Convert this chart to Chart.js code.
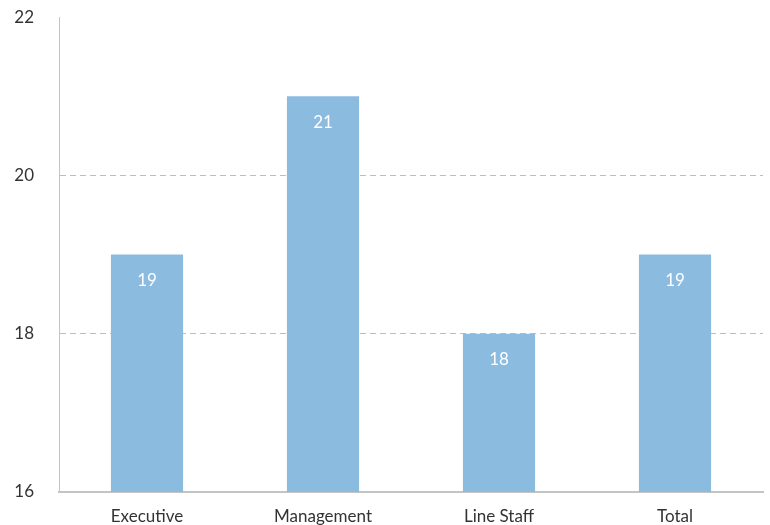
<!DOCTYPE html>
<html><head><meta charset="utf-8">
<script src="https://cdn.jsdelivr.net/npm/chart.js@4/dist/chart.umd.min.js"></script>
<style>html,body{margin:0;padding:0;background:#fff}#wrap{width:770px;height:525px}</style>
</head><body><div id="wrap"><canvas id="c" width="770" height="525"></canvas></div>
<script>
const categories = ["Executive", "Management", "Line Staff", "Total"];
const values = [19, 21, 18, 19];
const yTicks = [16, 18, 20, 22];

const FONT = "Lato, 'Open Sans', sans-serif";

const labelPlugin = {
  id: 'barLabels',
  afterDatasetsDraw(chart) {
    const ctx = chart.ctx;
    const meta = chart.getDatasetMeta(0);
    ctx.save();
    ctx.fillStyle = '#ffffff';
    ctx.font = '17px ' + FONT;
    ctx.textAlign = 'center';
    ctx.textBaseline = 'middle';
    meta.data.forEach((bar, i) => {
      ctx.fillText(String(values[i]), bar.x, bar.y + 26);
    });
    ctx.restore();
  }
};

new Chart(document.getElementById('c'), {
  type: 'bar',
  data: {
    labels: categories,
    datasets: [{
      data: values,
      backgroundColor: '#8cbbe0',
      borderWidth: 0,
      barPercentage: 0.41,
      categoryPercentage: 1
    }]
  },
  plugins: [labelPlugin],
  options: {
    responsive: false,
    animation: false,
    layout: { padding: { top: 0, right: 7, left: 0, bottom: 0 } },
    plugins: { legend: { display: false }, tooltip: { enabled: false } },
    scales: {
      x: {
        grid: { display: false, drawTicks: false },
        border: { display: true, color: '#c4c4c4', width: 2 },
        ticks: { color: '#333', font: { family: FONT, size: 17 }, padding: 14, maxRotation: 0 },
        afterFit(s) { s.height = 33; }
      },
      y: {
        min: 16, max: 22,
        afterBuildTicks(s) { s.ticks = yTicks.map(v => ({ value: v })); },
        grid: {
          drawTicks: true,
          tickLength: 18,
          tickColor: 'rgba(0,0,0,0)',
          color: ctx => (ctx.tick && (ctx.tick.value === 18 || ctx.tick.value === 20)) ? '#bdbdbd' : 'rgba(0,0,0,0)',
          lineWidth: 1
        },
        border: { display: true, color: '#c4c4c4', width: 1, dash: [6, 4] },
        ticks: { color: '#333', font: { family: FONT, size: 17 }, padding: 7 },
        afterFit(s) { s.width = 59; }
      }
    }
  }
});
</script></body></html>
